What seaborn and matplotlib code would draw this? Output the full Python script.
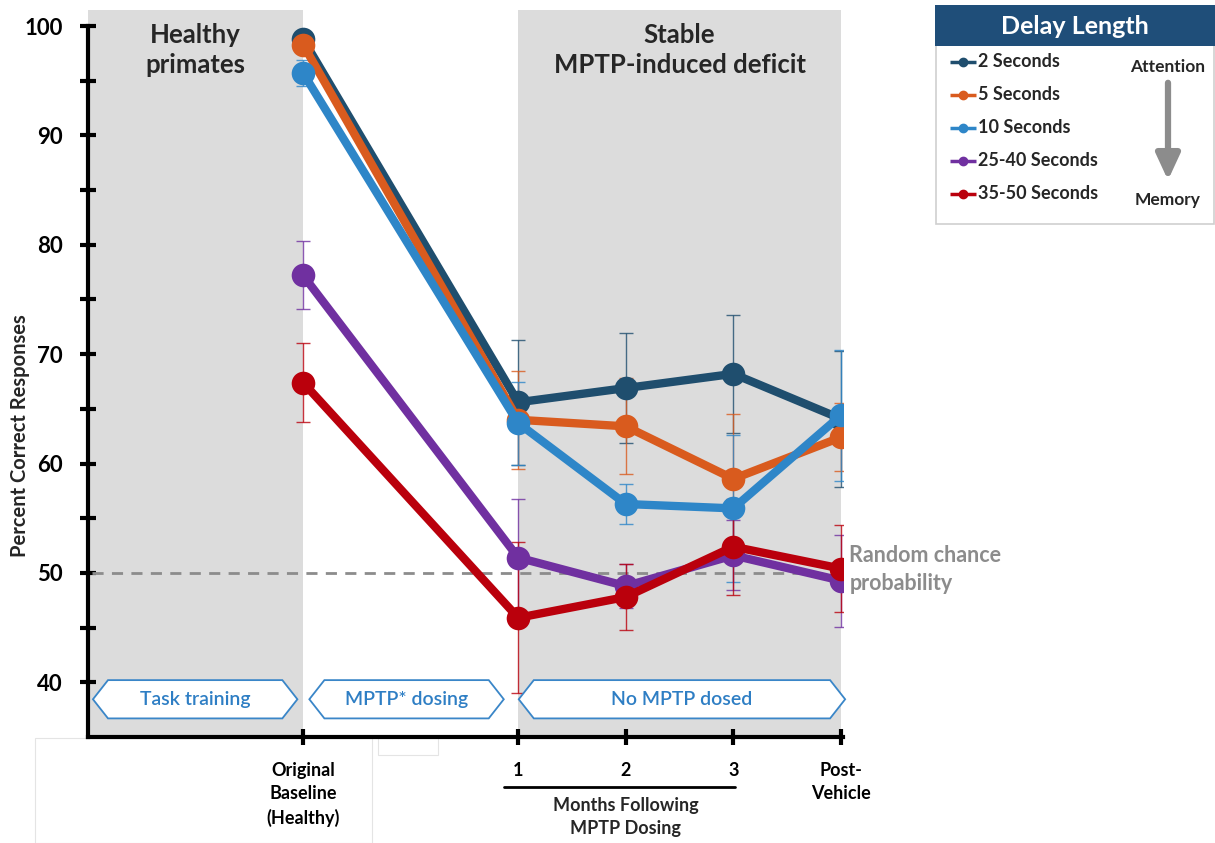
import numpy as np
import pandas as pd
import matplotlib
matplotlib.use("Agg")
import matplotlib.pyplot as plt
from matplotlib.patches import Polygon, Rectangle
from matplotlib.transforms import blended_transform_factory
import seaborn as sns

# ---- data -------------------------------------------------------------
timepoints = [-1, 1, 2, 3, 4]
tick_labels = ["Original\nBaseline\n(Healthy)", "1", "2", "3", "Post-\nVehicle"]
delays = ["2 Seconds", "5 Seconds", "10 Seconds", "25-40 Seconds", "35-50 Seconds"]

pct_2s = [98.8, 65.6, 66.9, 68.2, 64.1]
pct_5s = [98.3, 64.0, 63.4, 58.6, 62.4]
pct_10s = [95.7, 63.7, 56.3, 55.9, 64.4]
pct_25_40s = [77.2, 51.4, 48.8, 51.6, 49.3]
pct_35_50s = [67.4, 45.9, 47.8, 52.4, 50.4]

err_2s = [0.4, 5.7, 5.0, 5.4, 6.2]
err_5s = [0.4, 4.5, 4.4, 5.9, 3.1]
err_10s = [1.2, 3.8, 1.8, 6.7, 6.0]
err_25_40s = [3.1, 5.4, 2.0, 3.2, 4.2]
err_35_50s = [3.6, 6.9, 3.0, 4.4, 4.0]

colors = ["#1F4E6E", "#D95B1E", "#2E86C8", "#7030A0", "#BA000C"]

values = [pct_2s, pct_5s, pct_10s, pct_25_40s, pct_35_50s]
errors = [err_2s, err_5s, err_10s, err_25_40s, err_35_50s]

df = pd.DataFrame({
    "time": np.tile(timepoints, len(delays)),
    "pct": np.concatenate(values),
    "err": np.concatenate(errors),
    "delay": np.repeat(delays, len(timepoints)),
})
palette = dict(zip(delays, colors))

# ---- figure -----------------------------------------------------------
sns.set_theme(style="white")
plt.rcParams["font.family"] = ["Lato", "DejaVu Sans"]
plt.rcParams["font.weight"] = "bold"

fig = plt.figure(figsize=(12.15, 8.43), dpi=100)
ax = fig.add_axes([88 / 1215, 1 - 737 / 843, (843 - 88) / 1215, (737 - 9.6) / 843])

ax.set_xlim(-3, 4.02)
ax.set_ylim(35, 101.5)

# shaded study phases
ax.axvspan(-3, -1, color="#DCDCDC", lw=0, zorder=0)
ax.axvspan(1, 4, color="#DCDCDC", lw=0, zorder=0)

# chance level
ax.axhline(50, xmin=0.005, xmax=1, color="#8C8C8C", lw=2, ls=(0, (4, 3)), zorder=1)

# error bars
for d in delays:
    sub = df[df["delay"] == d]
    ax.errorbar(sub["time"], sub["pct"], yerr=sub["err"], fmt="none",
                ecolor=palette[d], elinewidth=1, capsize=5, capthick=1,
                alpha=0.8, zorder=2)

sns.lineplot(data=df, x="time", y="pct", hue="delay", hue_order=delays,
             palette=palette, marker="o", markersize=17, markeredgewidth=0,
             linewidth=6, sort=False, legend=False, ax=ax, zorder=3)

# axes styling
for s in ["top", "right"]:
    ax.spines[s].set_visible(False)
for s in ["left", "bottom"]:
    ax.spines[s].set_color("black")
    ax.spines[s].set_linewidth(3)
ax.spines["left"].set_bounds(35, 100)

ax.set_yticks([40, 50, 60, 70, 80, 90, 100])
ax.set_yticks([45, 55, 65, 75, 85, 95], minor=True)
ax.tick_params(axis="y", which="both", direction="inout", length=12, width=3,
               colors="black", labelsize=16, pad=12, left=True)
for lab in ax.get_yticklabels():
    lab.set_fontweight("bold")

ax.set_xticks(timepoints)
ax.set_xticklabels(tick_labels, fontsize=13, fontweight="bold", linespacing=1.45)
ax.tick_params(axis="x", direction="inout", length=12, width=3, colors="black",
               pad=12, bottom=True)

ax.set_xlabel("")
ax.set_ylabel("Percent Correct Responses", fontsize=14.5, fontweight="bold")
ax.yaxis.set_label_coords(-0.077, 0.415)

# phase titles
ax.text(-2, 100.3, "Healthy\nprimates", ha="center", va="top", fontsize=18.5,
        fontweight="bold", linespacing=1.3)
ax.text(2.5, 100.3, "Stable\nMPTP-induced deficit", ha="center", va="top",
        fontsize=18.5, fontweight="bold", linespacing=1.3)

# chance label
ax.text(4.08, 50.3, "Random chance\nprobability", ha="left", va="center",
        fontsize=15.5, fontweight="bold", color="#8C8C8C", linespacing=1.4,
        clip_on=False)


# double-pointed phase banners
def banner(x0, x1, label, tip=0.14, y0=36.7, y1=40.2):
    ym = (y0 + y1) / 2
    pts = [(x0, ym), (x0 + tip, y1), (x1 - tip, y1), (x1, ym), (x1 - tip, y0), (x0 + tip, y0)]
    ax.add_patch(Polygon(pts, closed=True, facecolor="white", edgecolor="#3A86C8",
                         lw=1.3, zorder=4, clip_on=False))
    ax.text((x0 + x1) / 2, ym, label, ha="center", va="center", fontsize=14,
            color="#2E7EC4", zorder=5, fontweight="semibold")


banner(-2.954, -1.053, "Task training")
banner(-0.942, 0.866, "MPTP* dosing")
banner(1.005, 4.04, "No MPTP dosed")

# month grouping under the axis
tr = blended_transform_factory(ax.transData, fig.transFigure)
ax.plot([0.87, 3.02], [1 - 787 / 843] * 2, color="black", lw=2, transform=tr, clip_on=False)
ax.text(2.0, 1 - 817 / 843, "Months Following\nMPTP Dosing", ha="center", va="center",
        fontsize=13, fontweight="bold", transform=tr, linespacing=1.45)

# faint blank boxes below the axis
for (x0, y0, w, h) in [(35, 738, 337, 105), (378, 738, 60, 17), (163, 728, 60, 10)]:
    fig.patches.append(Rectangle((x0 / 1215, 1 - (y0 + h) / 843), w / 1215, h / 843,
                                 transform=fig.transFigure, facecolor="white",
                                 edgecolor="#E4E4E4", lw=0.8, zorder=-1))

# ---- legend panel -----------------------------------------------------
lax = fig.add_axes([935 / 1215, 1 - 225 / 843, 280 / 1215, 220 / 843])
lax.set_xlim(0, 280)
lax.set_ylim(220, 0)
lax.axis("off")
lax.add_patch(Rectangle((1, 0), 278, 219, facecolor="white", edgecolor="#CFCFCF", lw=1.2))
lax.add_patch(Rectangle((0, 0), 280, 41, facecolor="#1F4E79", edgecolor="none"))
lax.text(140, 22, "Delay Length", ha="center", va="center", color="white",
         fontsize=18, fontweight="bold")

for i, (name, c) in enumerate(zip(delays, colors)):
    yy = 57 + 33 * i
    lax.plot([15, 41], [yy, yy], color=c, lw=2.5, solid_capstyle="butt")
    lax.plot([28], [yy], marker="o", color=c, markersize=6)
    lax.text(43, yy, name, ha="left", va="center", fontsize=13, fontweight="bold")

lax.text(233, 62, "Attention", ha="center", va="center", fontsize=12.5, fontweight="bold")
lax.text(233, 195, "Memory", ha="center", va="center", fontsize=12.5, fontweight="bold")
lax.annotate("", xy=(233, 178), xytext=(233, 75),
             arrowprops=dict(arrowstyle="-|>,head_width=0.6,head_length=1.3",
                             color="#8C8C8C", lw=4.5))

fig.savefig("out.png", dpi=100)
